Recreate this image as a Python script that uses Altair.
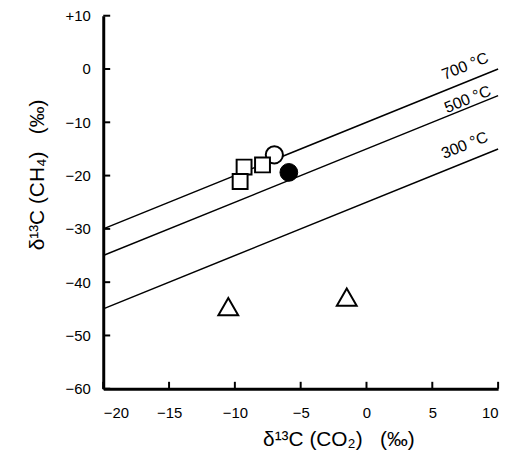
import altair as alt
import pandas as pd

# ---- data ----
line_names = ["700 °C", "500 °C", "300 °C"]
line_x = [-20, 10]
line_y_700 = [-30, 0]
line_y_500 = [-35, -5]
line_y_300 = [-45, -15]

square_x = [-9.3, -9.6, -7.9]
square_y = [-18.4, -21.1, -18.0]
open_circle_x = [-7.0]
open_circle_y = [-16.1]
filled_circle_x = [-5.9]
filled_circle_y = [-19.4]
triangle_x = [-10.5, -1.5]
triangle_y = [-44.6, -42.8]

x_ticks = [-20, -15, -10, -5, 0, 5, 10]
y_ticks = [10, 0, -10, -20, -30, -40, -50, -60]
label_x = 6.2

FONT = "Liberation Sans"
NB = "\u00a0"

# ---- tables ----
lines_df = pd.DataFrame(
    [{"name": n, "x": xv, "y": yv}
     for n, ys in zip(line_names, [line_y_700, line_y_500, line_y_300])
     for xv, yv in zip(line_x, ys)]
)


def interp(ys, xv):
    return ys[0] + (ys[1] - ys[0]) * (xv - line_x[0]) / (line_x[1] - line_x[0])


label_dfs = [
    pd.DataFrame({"x": [label_x], "y": [interp(ys, label_x)], "t": [n]})
    for n, ys in zip(line_names, [line_y_700, line_y_500, line_y_300])
]

xscale = alt.Scale(domain=[-20, 10], nice=False, zero=False)
yscale = alt.Scale(domain=[-60, 10], nice=False, zero=False)

xaxis = alt.Axis(
    values=x_ticks, tickSize=0, labelPadding=17, grid=False,
    domainWidth=3, domainColor="black", labelColor="black",
    labelFont=FONT, labelFontSize=15,
    title="δ¹³C" + NB + "(CO₂)" + NB * 3 + "(‰)", titleFont=FONT, titleFontSize=21,
    titleFontWeight="normal", titleColor="black",
    titleX=237, titleY=40, titleAnchor="middle",
)
yaxis = alt.Axis(
    values=y_ticks, tickSize=0, labelPadding=13, grid=False,
    domainWidth=3, domainColor="black", labelColor="black",
    labelFont=FONT, labelFontSize=15,
    labelExpr="datum.value > 0 ? '+' + datum.label : datum.label",
    title="δ¹³C" + NB + "(CH₄)" + NB * 3 + "(‰)", titleFont=FONT, titleFontSize=21,
    titleFontWeight="normal", titleColor="black",
    titleX=-56, titleY=160, titleAngle=270,
)

X = alt.X("x:Q", scale=xscale, axis=xaxis)
Y = alt.Y("y:Q", scale=yscale, axis=yaxis)

lines = alt.Chart(lines_df).mark_line(color="black", strokeWidth=1.5).encode(
    x=X, y=Y, detail="name:N"
)

texts = []
for df, dy in zip(label_dfs, [-10, -3, -11]):
    texts.append(
        alt.Chart(df).mark_text(
            align="left", baseline="alphabetic", angle=338, dy=dy,
            font=FONT, fontSize=16, color="black"
        ).encode(x=X, y=Y, text="t:N")
    )

ytick_df = pd.DataFrame({"y": y_ticks})
xtick_df = pd.DataFrame({"x": x_ticks})
yticks = alt.Chart(ytick_df).mark_rule(color="black", strokeWidth=2).encode(
    y=Y, x=alt.value(0), x2=alt.value(7)
)
xticks = alt.Chart(xtick_df).mark_rule(color="black", strokeWidth=2).encode(
    x=X, y=alt.value(376), y2=alt.value(369)
)

tri = alt.Chart(pd.DataFrame({"x": triangle_x, "y": triangle_y})).mark_point(
    shape="triangle-up", size=400, filled=True, fill="white",
    stroke="black", strokeWidth=2, opacity=1
).encode(x=X, y=Y)

sq = alt.Chart(pd.DataFrame({"x": square_x, "y": square_y})).mark_point(
    shape="square", size=225, filled=True, fill="white",
    stroke="black", strokeWidth=2, opacity=1
).encode(x=X, y=Y)

oc = alt.Chart(pd.DataFrame({"x": open_circle_x, "y": open_circle_y})).mark_point(
    shape="circle", size=300, filled=True, fill="white",
    stroke="black", strokeWidth=2, opacity=1
).encode(x=X, y=Y)

fc = alt.Chart(pd.DataFrame({"x": filled_circle_x, "y": filled_circle_y})).mark_point(
    shape="circle", size=320, filled=True, fill="black",
    stroke="black", strokeWidth=1, opacity=1
).encode(x=X, y=Y)

chart = alt.layer(lines, *texts, yticks, xticks, tri, oc, sq, fc).properties(
    width=398, height=376,
    autosize=alt.AutoSizeParams(type="none"),
    padding={"left": 96, "top": 6, "right": 14, "bottom": 66},
    background="white",
).configure_view(stroke=None)

chart.save("out.html", embed_options={"renderer": "svg", "actions": False})
